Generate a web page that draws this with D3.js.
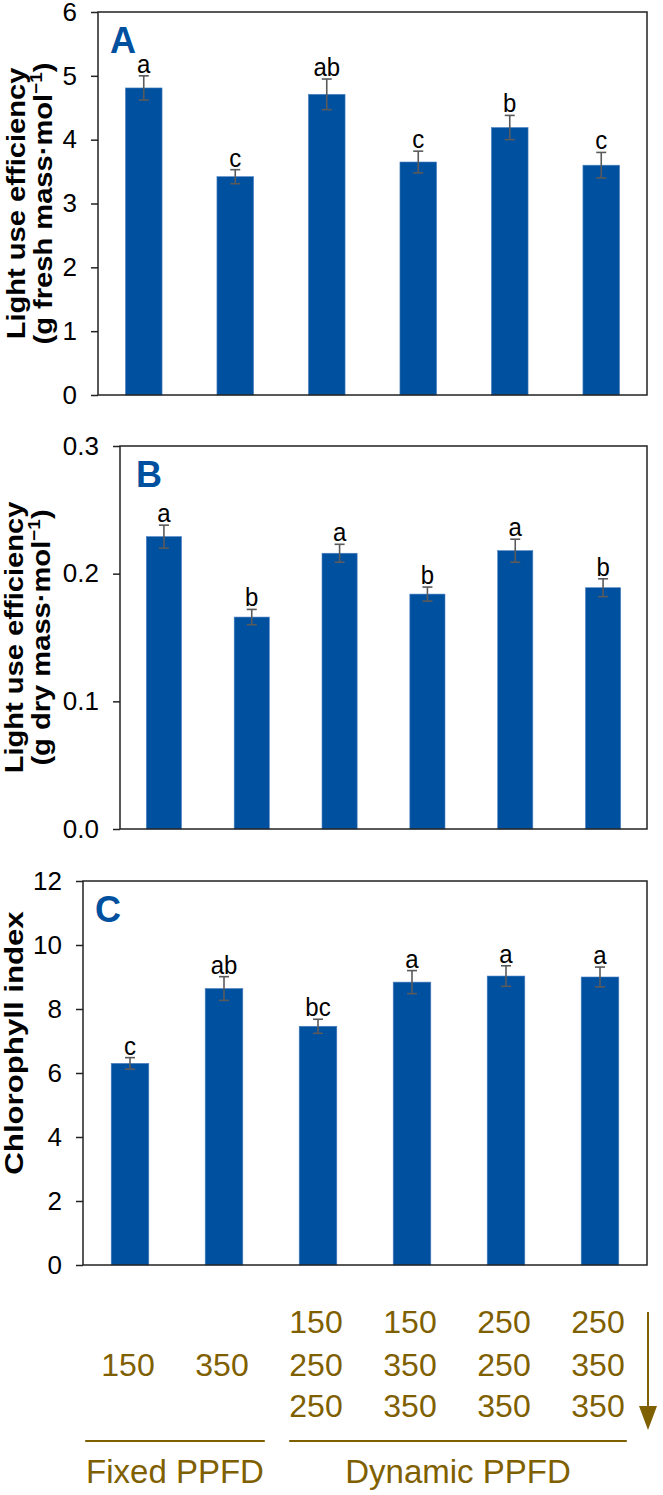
<!DOCTYPE html>
<html>
<head>
<meta charset="utf-8">
<script src="https://cdn.jsdelivr.net/npm/d3@7"></script>
<style>
  html, body { margin: 0; padding: 0; background: #fff; }
  svg { display: block; font-family: "Liberation Sans", Arial, sans-serif; }
</style>
</head>
<body>
<svg id="chart" width="663" height="1495"></svg>
<script>
// ---------- data ----------
const categories = ["150", "350", "150-250-250", "150-350-350", "250-250-350", "250-350-350"];

const lueFresh = [4.81, 3.42, 4.71, 3.65, 4.19, 3.60];
const lueFreshErr = [0.19, 0.11, 0.24, 0.17, 0.19, 0.20];
const lueFreshLetters = ["a", "c", "ab", "c", "b", "c"];
const lueFreshTicks = [0, 1, 2, 3, 4, 5, 6];

const lueDry = [0.229, 0.166, 0.216, 0.184, 0.218, 0.189];
const lueDryErr = [0.009, 0.006, 0.007, 0.0055, 0.009, 0.007];
const lueDryLetters = ["a", "b", "a", "b", "a", "b"];
const lueDryTicks = [0, 0.1, 0.2, 0.3];

const chlIndex = [6.30, 8.64, 7.46, 8.84, 9.03, 9.00];
const chlIndexErr = [0.18, 0.37, 0.22, 0.36, 0.32, 0.31];
const chlIndexLetters = ["c", "ab", "bc", "a", "a", "a"];
const chlIndexTicks = [0, 2, 4, 6, 8, 10, 12];

const treatmentRows = [["150"], ["350"], ["150", "250", "250"], ["150", "350", "350"], ["250", "250", "350"], ["250", "350", "350"]];
const groupNames = ["Fixed PPFD", "Dynamic PPFD"];

// ---------- styles ----------
const barColor = "#0050A0";
const errColor = "#5a5a5a";
const brown = "#7F6000";
const svg = d3.select("#chart");

function panel(cfg) {
  const g = svg.append("g");
  const x = d3.scaleBand().domain(categories).range([cfg.left, cfg.right]).paddingInner(0.6).paddingOuter(0.3);
  const y = d3.scaleLinear().domain([0, cfg.max]).range([cfg.bottom, cfg.top]);

  // bars
  g.selectAll("rect.bar").data(cfg.values).join("rect")
    .attr("class", "bar")
    .attr("x", (d, i) => x(categories[i]))
    .attr("width", x.bandwidth())
    .attr("y", d => y(d))
    .attr("height", d => y(0) - y(d))
    .attr("fill", barColor)
    .attr("stroke", "#4a7fc0").attr("stroke-width", 0.6);

  // error bars
  const cap = 5;
  const eg = g.selectAll("g.err").data(cfg.values).join("g").attr("class", "err")
    .attr("stroke", errColor).attr("stroke-width", 1.6);
  const cx = i => x(categories[i]) + x.bandwidth() / 2;
  eg.append("line")
    .attr("x1", (d, i) => cx(i)).attr("x2", (d, i) => cx(i))
    .attr("y1", (d, i) => y(d + cfg.err[i]))
    .attr("y2", (d, i) => y(d - cfg.err[i]));
  eg.append("line")
    .attr("x1", (d, i) => cx(i) - cap).attr("x2", (d, i) => cx(i) + cap)
    .attr("y1", (d, i) => y(d + cfg.err[i]))
    .attr("y2", (d, i) => y(d + cfg.err[i]));
  eg.append("line")
    .attr("x1", (d, i) => cx(i) - cap).attr("x2", (d, i) => cx(i) + cap)
    .attr("y1", (d, i) => y(d - cfg.err[i]))
    .attr("y2", (d, i) => y(d - cfg.err[i]));

  // significance letters
  g.selectAll("text.sig").data(cfg.values).join("text")
    .attr("class", "sig")
    .attr("transform", (d, i) => `translate(${cx(i)},${y(d + cfg.err[i]) - 3}) scale(1,1.08)`)
    .attr("text-anchor", "middle")
    .attr("font-size", 24)
    .attr("fill", "#000")
    .text((d, i) => cfg.letters[i]);

  // frame
  g.append("rect")
    .attr("x", cfg.left).attr("y", cfg.top)
    .attr("width", cfg.right - cfg.left).attr("height", cfg.bottom - cfg.top)
    .attr("fill", "none").attr("stroke", "#222").attr("stroke-width", 1.5);

  // y axis
  const ax = g.append("g").attr("transform", `translate(${cfg.left},0)`)
    .call(d3.axisLeft(y).tickValues(cfg.ticks).tickFormat(cfg.fmt).tickSize(7).tickPadding(14));
  ax.select(".domain").remove();
  ax.selectAll(".tick line").attr("stroke", "#222").attr("stroke-width", 1.5);
  ax.selectAll(".tick text").attr("font-size", 26).attr("fill", "#000")
    .attr("font-family", "Liberation Sans, Arial, sans-serif");

  // panel letter
  g.append("text")
    .attr("x", cfg.left + cfg.letterDx).attr("y", cfg.top + 41)
    .attr("font-size", 36).attr("font-weight", "bold").attr("fill", barColor)
    .text(cfg.letter);

  // y titles
  const cy = (cfg.top + cfg.bottom) / 2;
  cfg.titles.forEach(t => {
    const tt = g.append("text")
      .attr("transform", `translate(${t.x},${cy + (t.dy || 0)}) rotate(-90) scale(${t.sx || 1.12},1)`)
      .attr("text-anchor", "middle")
      .attr("font-size", 26).attr("font-weight", "bold").attr("fill", "#000");
    t.parts.forEach(p => {
      const ts = tt.append("tspan").text(p.s);
      if (p.sup) ts.attr("font-size", 17).attr("dy", -10);
      if (p.down) ts.attr("dy", 10);
    });
  });
  return x;
}

panel({
  left: 98, right: 647, top: 12, bottom: 395, max: 6,
  values: lueFresh, err: lueFreshErr, letters: lueFreshLetters,
  ticks: lueFreshTicks, fmt: d3.format("d"), letter: "A", letterDx: 12,
  titles: [
    { x: 25, parts: [{ s: "Light use efficiency" }] },
    { x: 52, parts: [{ s: "(g fresh mass·mol" }, { s: "−1", sup: true }, { s: ")", down: true }] }
  ]
});

panel({
  left: 120, right: 647, top: 446, bottom: 829, max: 0.3,
  values: lueDry, err: lueDryErr, letters: lueDryLetters,
  ticks: lueDryTicks, fmt: d3.format(".1f"), letter: "B", letterDx: 16,
  titles: [
    { x: 23, parts: [{ s: "Light use efficiency" }] },
    { x: 50, parts: [{ s: "(g dry mass·mol" }, { s: "−1", sup: true }, { s: ")", down: true }] }
  ]
});

const xC = panel({
  left: 83, right: 647, top: 881, bottom: 1265, max: 12,
  values: chlIndex, err: chlIndexErr, letters: chlIndexLetters,
  ticks: chlIndexTicks, fmt: d3.format("d"), letter: "C", letterDx: 12,
  titles: [
    { x: 23, dy: -30, sx: 1.2, parts: [{ s: "Chlorophyll index" }] }
  ]
});

// ---------- treatment labels ----------
const lab = svg.append("g").attr("fill", brown).attr("font-size", 32);
const rowBase = [1333, 1376, 1417];
treatmentRows.forEach((rows, i) => {
  const cx = xC(categories[i]) + xC.bandwidth() / 2 - 2;
  rows.forEach((s, r) => {
    const base = rows.length === 1 ? rowBase[1] : rowBase[r];
    lab.append("text").attr("x", cx).attr("y", base).attr("text-anchor", "middle").text(s);
  });
});

// group lines
const fixedL = xC(categories[0]) - 26, fixedR = xC(categories[1]) + xC.bandwidth() + 22;
const dynL = xC(categories[2]) - 10, dynR = xC(categories[5]) + xC.bandwidth() + 8;
svg.append("line").attr("x1", fixedL).attr("x2", fixedR).attr("y1", 1441).attr("y2", 1441)
  .attr("stroke", brown).attr("stroke-width", 2);
svg.append("line").attr("x1", dynL).attr("x2", dynR).attr("y1", 1441).attr("y2", 1441)
  .attr("stroke", brown).attr("stroke-width", 2);
svg.append("text").attr("x", (fixedL + fixedR) / 2).attr("y", 1483).attr("text-anchor", "middle")
  .attr("fill", brown).attr("font-size", 33).text(groupNames[0]);
svg.append("text").attr("x", (dynL + dynR) / 2).attr("y", 1483).attr("text-anchor", "middle")
  .attr("fill", brown).attr("font-size", 33).text(groupNames[1]);

// arrow
const ax0 = 648;
svg.append("line").attr("x1", ax0).attr("x2", ax0).attr("y1", 1312).attr("y2", 1412)
  .attr("stroke", brown).attr("stroke-width", 2);
svg.append("path").attr("d", `M${ax0 - 9},1406 L${ax0 + 9},1406 L${ax0},1430 Z`).attr("fill", brown);
</script>
</body>
</html>
